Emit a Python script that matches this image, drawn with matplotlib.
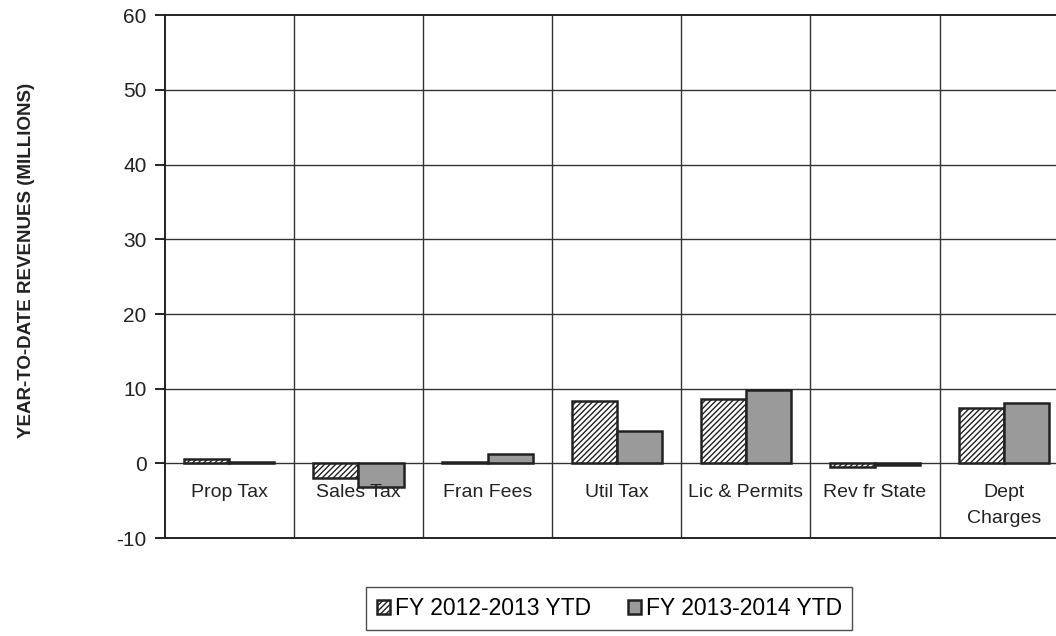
import matplotlib
matplotlib.use("Agg")
import matplotlib.pyplot as plt
import numpy as np

plt.rcParams["font.family"] = ["Liberation Sans", "DejaVu Sans"]
plt.rcParams["hatch.linewidth"] = 1.0

# DATA
categories = ["Prop Tax", "Sales Tax", "Fran Fees", "Util Tax", "Lic & Permits", "Rev fr State", "Dept\nCharges"]
fy_2012_13 = [0.6, -1.9, 0.2, 8.3, 8.6, -0.5, 7.4]
fy_2013_14 = [0.2, -3.1, 1.2, 4.3, 9.8, -0.2, 8.1]
series_labels = ["FY 2012-2013 YTD", "FY 2013-2014 YTD"]
y_ticks = [-10, 0, 10, 20, 30, 40, 50, 60]

fig = plt.figure(figsize=(10.56, 6.36), dpi=100)
ax = fig.add_axes([0.156, 0.154, 0.856, 0.822])

x = np.arange(len(categories))
w = 0.35
ax.bar(x - w / 2, fy_2012_13, w, color="white", edgecolor="#222222", hatch="//////",
       linewidth=1.8, label=series_labels[0], zorder=3)
ax.bar(x + w / 2, fy_2013_14, w, color="#9a9a9a", edgecolor="#222222",
       linewidth=1.8, label=series_labels[1], zorder=3)

ax.set_xlim(-0.5, len(categories) - 0.5)
ax.set_ylim(-10, 60)
ax.set_yticks(y_ticks)
ax.set_yticklabels([str(t) for t in y_ticks], fontsize=15, color="#222222")
ax.tick_params(axis="y", direction="out", length=7, width=1.2, pad=6)
ax.set_xticks([])

# grid lines: horizontal at ticks, vertical between categories
for t in y_ticks[1:-1]:
    ax.axhline(t, color="#333333", linewidth=1.0, zorder=1)
for b in np.arange(0.5, len(categories) - 0.5, 1.0):
    ax.axvline(b, color="#333333", linewidth=1.0, zorder=1)

for s in ax.spines.values():
    s.set_color("#222222")
    s.set_linewidth(1.4)

# category labels inside the plot, below the zero line
for xi, name in zip(x, categories):
    ax.text(xi, -2.7, name, ha="center", va="top", fontsize=14,
            color="#222222", linespacing=1.75, zorder=4)

fig.text(0.025, 0.59, "YEAR-TO-DATE REVENUES (MILLIONS)", rotation=90,
         ha="center", va="center", fontsize=13.5, fontweight="bold", color="#222222")

leg = fig.legend(loc="center", bbox_to_anchor=(0.577, 0.043), ncol=2, fontsize=16.5,
                 frameon=True, fancybox=False, edgecolor="#222222",
                 handlelength=0.6, handleheight=0.6, handletextpad=0.2,
                 columnspacing=1.6, borderpad=0.45)
leg.get_frame().set_linewidth(1.0)

fig.savefig("out.png", dpi=100, facecolor="white")
